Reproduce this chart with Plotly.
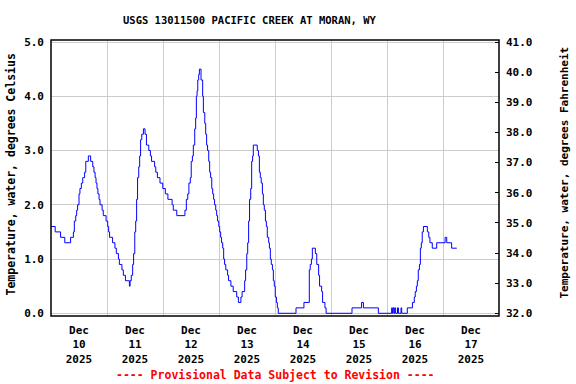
import plotly.graph_objects as go
import pandas as pd

# ---- data (hours since 2025-12-10 00:00, water temperature in deg C) ----
start = "2025-12-10 00:00"
hours = [0, 1.8, 4.1, 5.9, 8.4, 9.6, 10.0, 10.6, 11.0, 11.4, 12.0, 12.4, 13.0, 13.6, 14.4, 14.9, 16.0, 17.0,
         17.9, 18.4, 18.9, 19.3, 19.7, 20.1, 20.6, 21.0, 21.9, 22.4, 23.6, 24.3, 24.7, 25.1, 26.4, 27.4, 28.0,
         28.9, 29.3, 30.4, 31.0, 31.9, 33.6, 33.9, 34.4, 35.0, 35.4, 35.9, 36.3, 36.7, 37.1, 37.6, 38.0, 38.4,
         38.9, 39.6, 40.3, 40.9, 41.9, 42.6, 43.1, 44.4, 44.9, 45.6, 46.7, 47.9, 49.0, 50.1, 51.9, 52.4, 53.9,
         57.4, 58.0, 58.6, 59.1, 59.7, 60.1, 60.6, 61.0, 61.6, 62.0, 62.3, 62.6, 62.9, 63.3, 63.6, 64.3, 65.0,
         65.3, 65.9, 66.3, 66.7, 67.1, 67.6, 68.0, 68.4, 68.9, 69.3, 69.7, 70.1, 70.6, 71.0, 71.4, 71.9, 72.3,
         72.7, 73.1, 73.6, 74.0, 74.4, 74.9, 75.7, 76.1, 77.1, 78.1, 79.6, 80.3, 81.4, 81.9, 83.0, 83.4, 83.9,
         84.3, 84.7, 85.1, 85.6, 86.0, 86.4, 86.7, 88.4, 88.9, 89.3, 89.7, 90.1, 90.6, 91.0, 91.4, 91.9, 92.3,
         92.7, 93.3, 93.6, 94.0, 94.4, 94.9, 95.3, 95.7, 96.1, 96.6, 97.0, 97.4, 105.0, 108.4, 110.7, 111.1,
         111.6, 112.0, 113.3, 113.9, 114.7, 115.1, 116.0, 116.4, 117.4, 117.9, 129.0, 133.1, 133.9, 140.3,
         146.0, 146.3, 146.6, 147.0, 147.3, 147.7, 148.5, 148.9, 150.0, 150.3, 152.7, 154.9, 155.7, 156.1,
         156.6, 157.0, 157.4, 157.9, 158.3, 158.7, 159.1, 159.6, 161.3, 161.9, 162.4, 163.4, 165.3, 168.9,
         169.6, 171.7, 173.9]
temp_c = [1.6, 1.5, 1.4, 1.3, 1.4, 1.5, 1.7, 1.8, 1.9, 2.0, 2.2, 2.3, 2.4, 2.5, 2.6, 2.8, 2.9, 2.8,
          2.7, 2.6, 2.5, 2.4, 2.3, 2.2, 2.1, 2.0, 1.9, 1.8, 1.7, 1.6, 1.5, 1.4, 1.3, 1.2, 1.1,
          1.0, 0.9, 0.8, 0.7, 0.6, 0.5, 0.6, 0.7, 0.9, 1.1, 1.5, 1.7, 2.1, 2.5, 2.7, 2.9, 3.2,
          3.3, 3.4, 3.3, 3.1, 3.0, 2.9, 2.8, 2.7, 2.6, 2.5, 2.4, 2.3, 2.2, 2.1, 2.0, 1.9, 1.8,
          1.9, 2.1, 2.2, 2.4, 2.5, 2.8, 2.9, 3.1, 3.4, 3.6, 4.0, 4.1, 4.3, 4.4, 4.5, 4.3, 4.0,
          3.7, 3.5, 3.3, 3.1, 3.0, 2.8, 2.6, 2.5, 2.3, 2.2, 2.1, 2.0, 1.9, 1.8, 1.7, 1.6, 1.5,
          1.4, 1.3, 1.2, 1.0, 0.9, 0.8, 0.7, 0.6, 0.5, 0.4, 0.3, 0.2, 0.3, 0.4, 0.6, 0.8, 1.1,
          1.3, 1.7, 2.1, 2.3, 2.8, 2.9, 3.1, 3.0, 2.9, 2.6, 2.5, 2.4, 2.2, 2.0, 1.9, 1.7, 1.6,
          1.4, 1.3, 1.2, 1.0, 0.9, 0.8, 0.6, 0.5, 0.3, 0.2, 0.1, 0.0, 0.1, 0.2, 0.8, 0.9,
          1.0, 1.2, 1.1, 0.9, 0.7, 0.5, 0.4, 0.2, 0.1, 0.0, 0.1, 0.2, 0.1, 0.0,
          0.1, 0.0, 0.1, 0.0, 0.1, 0.0, 0.1, 0.0, 0.1, 0.0, 0.1, 0.2, 0.3, 0.4,
          0.5, 0.6, 0.8, 0.9, 1.2, 1.3, 1.5, 1.6, 1.5, 1.4, 1.3, 1.2, 1.3, 1.4,
          1.3, 1.2, 1.2]

day_labels = ["Dec<br>10<br>2025", "Dec<br>11<br>2025", "Dec<br>12<br>2025", "Dec<br>13<br>2025",
              "Dec<br>14<br>2025", "Dec<br>15<br>2025", "Dec<br>16<br>2025", "Dec<br>17<br>2025"]
c_ticks = [0, 1, 2, 3, 4, 5]
f_ticks = [32, 33, 34, 35, 36, 37, 38, 39, 40, 41]

title_text = "USGS 13011500 PACIFIC CREEK AT MORAN, WY"
footer_text = "---- Provisional Data Subject to Revision ----"
left_title = "Temperature, water, degrees Celsius"
right_title = "Temperature, water, degrees Fahrenheit"

# ---- build ----
t0 = pd.Timestamp(start)
times = [t0 + pd.Timedelta(hours=h) for h in hours]
temp_f = [c * 1.8 + 32 for c in temp_c]
days = pd.date_range(t0, periods=9, freq="D")
noons = [d + pd.Timedelta(hours=12) for d in days[:8]]

c_range = [-0.05, 5.037]
f_range = [c * 1.8 + 32 for c in c_range]

FONT = "DejaVu Sans Mono"

fig = go.Figure()
fig.add_trace(go.Scatter(x=times, y=temp_c, mode="lines", line=dict(color="#0000FF", width=1, shape="hv"),
                         hoverinfo="x+y", showlegend=False))
fig.add_trace(go.Scatter(x=times, y=temp_f, mode="lines", line=dict(color="rgba(0,0,0,0)", width=0),
                         yaxis="y2", hoverinfo="skip", showlegend=False))

fig.update_layout(
    width=576, height=384,
    margin=dict(l=51, r=77, t=40, b=68),
    paper_bgcolor="white", plot_bgcolor="white",
    font=dict(family=FONT, size=11, color="black"),
    showlegend=False,
    xaxis=dict(
        type="date", range=[days[0], days[8]],
        tickmode="array", tickvals=noons, ticktext=day_labels,
        showgrid=False, ticks="", zeroline=False, ticklabelstandoff=6,
        tickfont=dict(family=FONT, size=11, color="black", weight="bold"),
        minor=dict(tickmode="array", tickvals=list(days[1:8]), showgrid=True,
                   gridcolor="#CCCCCC", gridwidth=1, ticks=""),
        showline=False,
    ),
    yaxis=dict(
        range=c_range, tickmode="array", tickvals=c_ticks, tickformat=".1f",
        showgrid=True, gridcolor="#CCCCCC", gridwidth=1, zeroline=False,
        ticks="", ticklen=0, ticklabelstandoff=6,
        tickfont=dict(family=FONT, size=11, color="black", weight="bold"),
        showline=False,
    ),
    yaxis2=dict(
        range=f_range, overlaying="y", side="right", tickmode="array", tickvals=f_ticks,
        tickformat=".1f", showgrid=False, zeroline=False,
        ticks="inside", ticklen=4, tickcolor="black", tickwidth=1, ticklabelstandoff=6,
        tickfont=dict(family=FONT, size=11, color="black", weight="bold"),
        showline=False,
    ),
    shapes=[dict(type="rect", xref="paper", yref="paper", x0=0, x1=1, y0=0, y1=1,
                 line=dict(color="black", width=1.5), fillcolor="rgba(0,0,0,0)", layer="above")],
    annotations=[
        dict(text=title_text, xref="paper", yref="paper", x=(250 - 51) / 448, y=1 + 20 / 276,
             xanchor="center", yanchor="middle", showarrow=False,
             font=dict(family=FONT, size=10.5, color="black", weight="bold")),
        dict(text=footer_text, xref="paper", yref="paper", x=0.5, y=(316 - 375) / 276,
             xanchor="center", yanchor="middle", showarrow=False,
             font=dict(family=FONT, size=11.5, color="#FF0000", weight="bold")),
        dict(text=left_title, xref="paper", yref="paper", x=(10.5 - 51) / 448, y=(316 - 175) / 276,
             xanchor="center", yanchor="middle", showarrow=False, textangle=-90,
             font=dict(family=FONT, size=11.5, color="black", weight="bold")),
        dict(text=right_title, xref="paper", yref="paper", x=(563.5 - 51) / 448, y=(316 - 173) / 276,
             xanchor="center", yanchor="middle", showarrow=False, textangle=-90,
             font=dict(family=FONT, size=11, color="black", weight="bold")),
    ],
)

fig.write_html("out.html", config={"displayModeBar": False},
               post_script="document.body.style.margin='0';document.body.style.padding='0';")
